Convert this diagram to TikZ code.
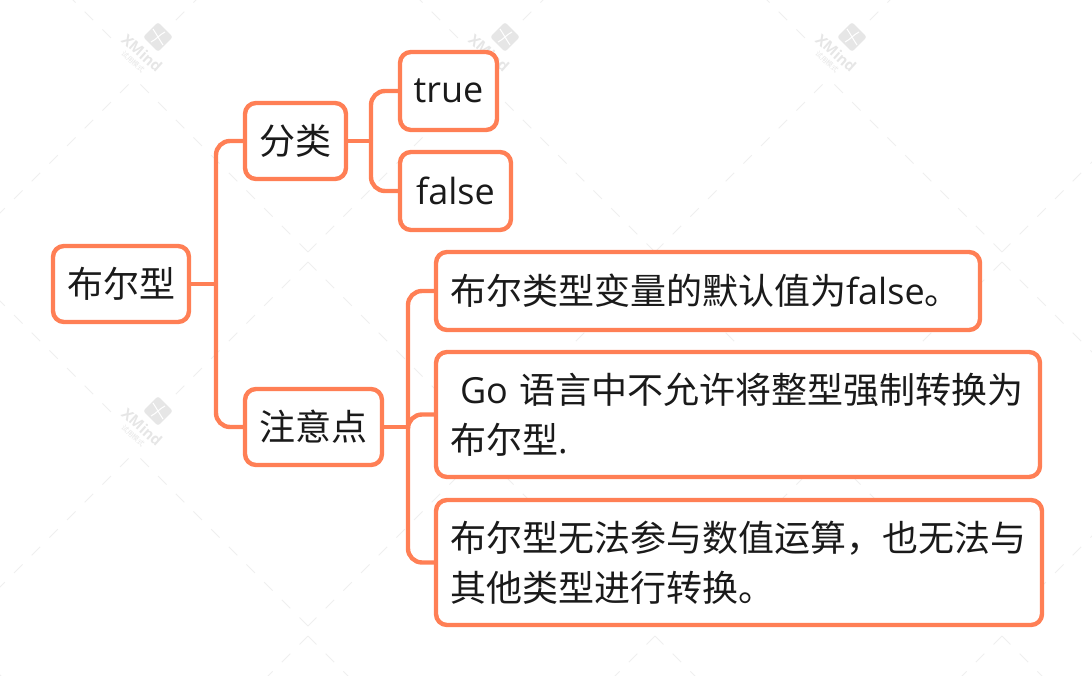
\documentclass[tikz,border=0pt]{standalone}
\usepackage{fontspec}
\usepackage{xcolor}
\usepackage{tikz}
\usetikzlibrary{positioning,calc}
\setmainfont{Noto Sans CJK SC}
\newfontfamily\latn{Open Sans}
\definecolor{AccentOrange}{HTML}{FF7F55}
\definecolor{TextDark}{HTML}{1A1A1A}
\definecolor{MarkGray}{HTML}{E6E6E6}
\definecolor{MarkLine}{HTML}{EFEFEF}
\tikzset{
  topicbox/.style={draw=AccentOrange, fill=white, line width=4.4pt, rounded corners=11pt,
    inner sep=0pt, outer sep=0pt, text=TextDark, font=\fontsize{36}{50}\selectfont},
  notebox/.style={topicbox, align=left},
  branch/.style={draw=AccentOrange, line width=4.4pt, rounded corners=14pt},
  markline/.style={draw=MarkLine, line width=1pt, dash pattern=on 12pt off 13pt},
  markicon/.style={fill=MarkGray, rounded corners=2.5pt, minimum size=21pt, inner sep=0pt, rotate=45},
  markname/.style={text=MarkGray, rotate=-42, inner sep=0pt, font=\latn\bfseries\fontsize{15}{15}\selectfont},
  marknote/.style={text=MarkGray, rotate=-42, inner sep=0pt, font=\fontsize{7}{7}\selectfont}
}
\begin{document}
\begin{tikzpicture}[x=1pt,y=-1pt]
  \useasboundingbox (0,0) rectangle (1092,676);
  \begin{scope}
    \clip (0,0) rectangle (1092,676);
    \foreach \i in {-1,0,1,2,3} {
      \foreach \j in {-1,0,1} {
        \begin{scope}[shift={(\i*347,\j*374)}]
          \draw[markline] (308,252) -- (139,83);
          \draw[markline] (308,252) -- (478,82);
          \draw[markline] (308,262) -- (465,419);
          \draw[markline] (308,262) -- (175,395);
        \end{scope}
      }
    }
    \foreach \i/\j in {0/0,1/0,2/0,0/1} {
      \begin{scope}[shift={(\i*347,\j*374)}]
        \node[markicon] (icon\i\j) at (158,37) {};
        \draw[white, line width=1pt] (153,29) .. controls (157,35) and (159,39) .. (163,45);
        \draw[white, line width=1pt] (165,32) .. controls (159,35) and (157,39) .. (151,42);
        \node[markname] (name\i\j) at (142,53) {XMind};
        \node[marknote] (note\i\j) at (133,62) {试用模式};
      \end{scope}
    }
  \end{scope}
  \node[topicbox, minimum width=136pt, minimum height=76pt] (root) at (121,284) {布尔型};
  \node[topicbox, minimum width=101pt, minimum height=76pt] (kind) at (295.5,141) {分类};
  \node[topicbox, minimum width=97pt, minimum height=78pt] (yes) at (448.5,91) {\latn true};
  \node[topicbox, minimum width=111pt, minimum height=78pt] (no) at (455.5,191) {\latn false};
  \node[topicbox, minimum width=137pt, minimum height=76pt] (care) at (313.5,427) {注意点};
  \node[notebox, minimum width=544pt, minimum height=78pt, text width=516pt] (noteA) at (708,291) {布尔类型变量的默认值为{\latn false}。};
  \node[notebox, minimum width=604pt, minimum height=125pt, text width=576pt] (noteB) at (738,414.5) {\hspace{10pt}{\latn Go} 语言中不允许将整型强制转换为\\布尔型{\latn .}};
  \node[notebox, minimum width=606pt, minimum height=125pt, text width=578pt] (noteC) at (739,562.5) {布尔型无法参与数值运算，也无法与\\其他类型进行转换。};
  \coordinate (rootfork) at (216,284);
  \coordinate (kindfork) at (371,141);
  \coordinate (carefork) at (408,427);
  \draw[branch] (root.east) -- (rootfork);
  \draw[branch] (rootfork) |- (kind.west);
  \draw[branch] (rootfork) |- (care.west);
  \draw[branch] (kind.east) -- (kindfork);
  \draw[branch] (kindfork) |- (yes.west);
  \draw[branch] (kindfork) |- (no.west);
  \draw[branch] (care.east) -- (carefork);
  \draw[branch] (carefork) |- (noteA.west);
  \draw[branch] (carefork) |- (noteB.west);
  \draw[branch] (carefork) |- (noteC.west);
\end{tikzpicture}
\end{document}
